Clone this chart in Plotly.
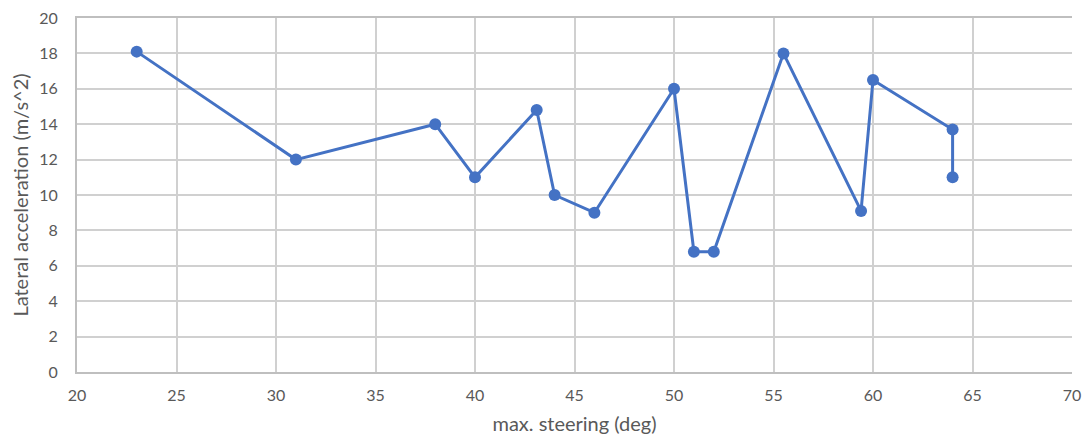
import plotly.graph_objects as go

steering = [23, 31, 38, 40, 43.1, 44, 46, 50, 51, 52, 55.5, 59.4, 60, 64, 64]
lat_acc = [18.1, 12, 14, 11, 14.8, 10, 9, 16, 6.8, 6.8, 18, 9.1, 16.5, 13.7, 11]

x_title = "max. steering (deg)"
y_title = "Lateral acceleration (m/s^2)"

fig = go.Figure()
fig.add_trace(go.Scatter(
    x=steering, y=lat_acc, mode="lines+markers",
    line=dict(color="#4472C4", width=3),
    marker=dict(color="#4472C4", size=12),
    showlegend=False,
))

font = dict(family="Lato, 'Open Sans', sans-serif", size=16, color="#595959")
fig.update_layout(
    width=1074, height=430,
    margin=dict(l=69, r=10, t=10, b=66, autoexpand=False),
    plot_bgcolor="white", paper_bgcolor="white",
    font=font,
)
fig.update_xaxes(
    range=[20, 70], dtick=5, tick0=20, automargin=False,
    showgrid=True, gridcolor="#d0d0d0", gridwidth=2,
    showline=True, linecolor="#bfbfbf", linewidth=2, mirror=True,
    zeroline=False, ticks="", ticklabelstandoff=8, ticklabeloverflow="allow",
    tickfont=dict(size=16, color="#595959"),
    title=dict(text=x_title, standoff=14, font=dict(size=20, color="#595959")),
)
fig.update_yaxes(
    range=[0, 20], dtick=2, tick0=0, automargin=False,
    showgrid=True, gridcolor="#d0d0d0", gridwidth=2,
    showline=True, linecolor="#bfbfbf", linewidth=2, mirror=False,
    zeroline=False, ticks="", ticklabelstandoff=14, ticklabeloverflow="allow",
    tickfont=dict(size=16, color="#595959"),
    title=dict(text=y_title, standoff=10, font=dict(size=20, color="#595959")),
)
fig.write_html("out.html")
